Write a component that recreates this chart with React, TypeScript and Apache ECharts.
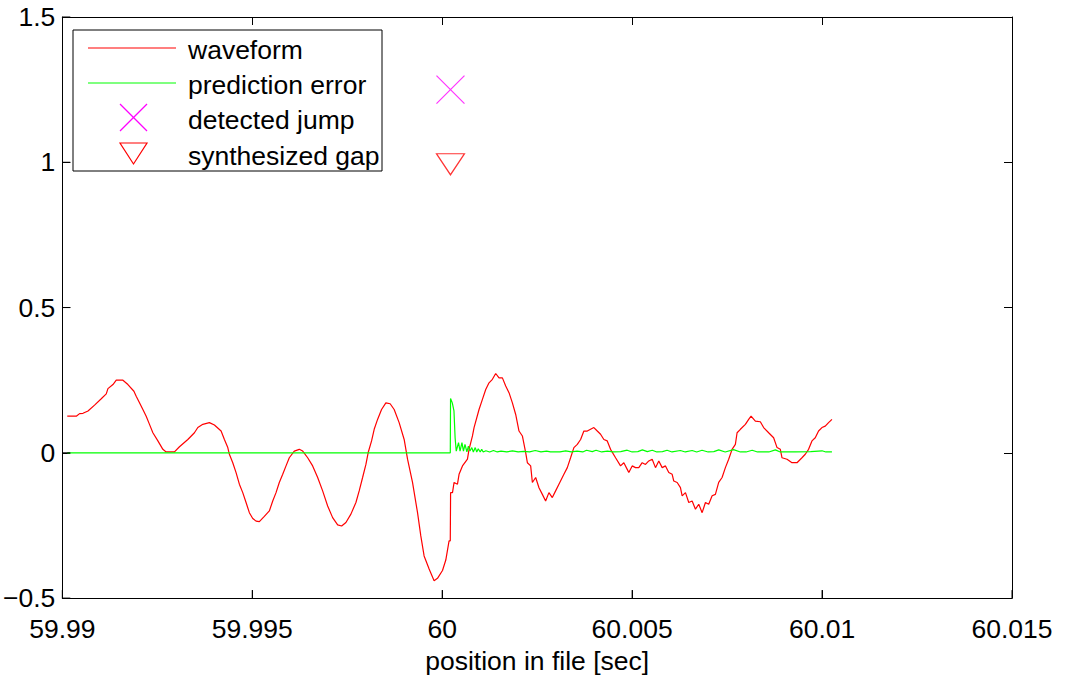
import React, { useEffect, useRef } from "react";
import * as echarts from "echarts";

// time offsets in milliseconds after 59.99 s, and amplitudes
const waveMs = [
  0.13, 0.368, 0.455, 0.544, 0.676, 0.849, 1.025, 1.157, 1.201, 1.333, 1.42, 1.596, 1.727, 1.885, 1.945,
  2.032, 2.121, 2.208, 2.295, 2.384, 2.516, 2.647, 2.734, 2.952, 3.084, 3.304, 3.478, 3.567, 3.699, 3.872,
  4.004, 4.18, 4.267, 4.356, 4.398, 4.487, 4.574, 4.661, 4.75, 4.837, 4.924, 5.013, 5.1, 5.187, 5.318,
  5.45, 5.539, 5.626, 5.712, 5.802, 5.889, 5.975, 6.107, 6.238, 6.328, 6.459, 6.59, 6.722, 6.853, 6.985,
  7.116, 7.248, 7.353, 7.466, 7.597, 7.729, 7.815, 7.905, 7.992, 8.052, 8.141, 8.21, 8.299, 8.404, 8.517,
  8.63, 8.736, 8.867, 8.999, 9.088, 9.219, 9.351, 9.437, 9.524, 9.656, 9.787, 9.876, 10.008, 10.095, 10.181,
  10.213, 10.221, 10.271, 10.313, 10.402, 10.444, 10.534, 10.665, 10.707, 10.797, 10.839, 10.97, 11.059, 11.146, 11.233,
  11.322, 11.409, 11.496, 11.585, 11.672, 11.759, 11.848, 11.935, 12.022, 12.111, 12.198, 12.242, 12.329, 12.374, 12.461,
  12.548, 12.637, 12.723, 12.81, 12.899, 12.986, 13.073, 13.204, 13.294, 13.38, 13.467, 13.557, 13.644, 13.73, 13.82,
  13.906, 13.993, 14.083, 14.169, 14.256, 14.345, 14.432, 14.564, 14.695, 14.782, 14.871, 14.913, 15.002, 15.089, 15.176,
  15.265, 15.352, 15.439, 15.528, 15.615, 15.702, 15.791, 15.878, 15.965, 16.054, 16.096, 16.186, 16.272, 16.317, 16.404,
  16.491, 16.58, 16.667, 16.754, 16.843, 16.93, 17.016, 17.106, 17.192, 17.279, 17.368, 17.455, 17.542, 17.631, 17.718,
  17.763, 17.85, 17.981, 18.068, 18.131, 18.244, 18.375, 18.462, 18.594, 18.725, 18.815, 18.901, 18.946, 19.077, 19.209,
  19.34, 19.471, 19.558, 19.645, 19.734, 19.821, 19.908, 19.997, 20.084, 20.171, 20.26,
];
const waveVal = [
  0.126, 0.126, 0.135, 0.136, 0.144, 0.164, 0.186, 0.203, 0.221, 0.235, 0.25, 0.25, 0.235, 0.212, 0.195,
  0.172, 0.149, 0.126, 0.098, 0.069, 0.041, 0.012, 0.003, 0.003, 0.021, 0.046, 0.069, 0.087, 0.098, 0.104,
  0.096, 0.075, 0.046, 0.018, -0.005, -0.034, -0.068, -0.108, -0.137, -0.171, -0.206, -0.226, -0.235, -0.237, -0.219,
  -0.2, -0.166, -0.137, -0.102, -0.074, -0.045, -0.017, 0.006, 0.012, 0.006, -0.017, -0.045, -0.085, -0.131, -0.183,
  -0.223, -0.248, -0.252, -0.24, -0.211, -0.171, -0.131, -0.085, -0.04, 0.001, 0.041, 0.081, 0.115, 0.149, 0.172,
  0.169, 0.149, 0.104, 0.046, -0.022, -0.102, -0.206, -0.286, -0.355, -0.4, -0.44, -0.432, -0.405, -0.369, -0.303,
  -0.303, -0.137, -0.137, -0.102, -0.108, -0.074, -0.045, -0.022, 0.012, 0.058, 0.087, 0.149, 0.184, 0.218, 0.241,
  0.253, 0.273, 0.258, 0.258, 0.23, 0.207, 0.172, 0.132, 0.075, 0.058, 0.001, -0.034, -0.045, -0.102, -0.085,
  -0.12, -0.143, -0.166, -0.137, -0.154, -0.131, -0.108, -0.074, -0.051, -0.017, 0.018, 0.029, 0.046, 0.075, 0.075,
  0.081, 0.087, 0.075, 0.064, 0.046, 0.041, 0.012, -0.017, -0.045, -0.034, -0.057, -0.068, -0.045, -0.051, -0.051,
  -0.034, -0.04, -0.028, -0.022, -0.051, -0.028, -0.051, -0.045, -0.068, -0.074, -0.097, -0.102, -0.12, -0.148, -0.137,
  -0.171, -0.166, -0.194, -0.177, -0.206, -0.171, -0.177, -0.148, -0.143, -0.102, -0.085, -0.051, -0.022, 0.012, 0.029,
  0.069, 0.081, 0.098, 0.115, 0.126, 0.109, 0.107, 0.087, 0.069, 0.052, 0.018, 0.012, -0.017, -0.022, -0.034,
  -0.034, -0.017, -0.005, 0.012, 0.041, 0.052, 0.075, 0.087, 0.092, 0.104, 0.115,
];

const errMs = [
  0.13, 10.213, 10.22, 10.266, 10.31, 10.34, 10.37, 10.43, 10.47, 10.52, 10.56, 10.6, 10.65, 10.69, 10.73,
  10.78, 10.82, 10.87, 10.91, 10.95, 11.0, 11.04, 11.08, 11.15, 11.25, 11.35, 11.45, 11.55, 11.7, 11.85,
  12.0, 12.15, 12.3, 12.45, 12.6, 12.75, 12.85, 13.1, 13.25, 13.4, 13.55, 13.7, 13.8, 13.95, 14.05,
  14.2, 14.35, 14.5, 14.7, 14.87, 15.0, 15.15, 15.27, 15.4, 15.53, 15.65, 15.8, 15.92, 16.05, 16.27,
  16.4, 16.58, 16.7, 16.84, 17.0, 17.15, 17.28, 17.45, 17.67, 17.85, 18.0, 18.16, 18.3, 18.6, 18.77,
  18.9, 19.3, 19.7, 20.0, 20.1, 20.26,
];
const errVal = [
  0, 0, 0.187, 0.172, 0.144, 0.052, 0.006, 0.035, 0.006, 0.035, 0.006, 0.029, 0.003, 0.023, 0.006,
  0.018, 0.003, 0.018, 0.003, 0.014, 0.003, 0.012, 0.003, 0.007, 0.003, 0.008, 0.003, 0.006, 0.003, 0.007,
  0.003, 0.005, 0.003, 0.008, 0.003, 0.006, 0.003, 0.003, 0.007, 0.003, 0.006, 0.003, 0.009, 0.004, 0.009,
  0.003, 0.006, 0.003, 0.004, 0.009, 0.003, 0.004, 0.01, 0.004, 0.009, 0.003, 0.004, 0.009, 0.003, 0.008,
  0.003, 0.008, 0.003, 0.009, 0.003, 0.004, 0.01, 0.003, 0.011, 0.003, 0.003, 0.009, 0.003, 0.003, 0.01,
  0.003, 0.003, 0.004, 0.007, 0.003, 0.003,
];

const jumpT = [60.000218];
const jumpV = [1.25];
const gapT = [60.000218];
const gapV = [1.0];

const xTickMin = 59.99;
const xTickMax = 60.015;
const xTickStep = 0.005;
const yTickMin = -0.5;
const yTickMax = 1.5;
const yTickStep = 0.5;
const xTickValues = [59.99, 59.995, 60, 60.005, 60.01, 60.015];
const yTickValues = [-0.5, 0, 0.5, 1, 1.5];

const legendNames = ["waveform", "prediction error", "detected jump", "synthesized gap"];

const FONT = "Liberation Sans";
const FS = 26.5;

export default function App() {
  const ref = useRef<HTMLDivElement>(null);
  useEffect(() => {
    document.body.style.margin = "0";
    if (!ref.current) return;
    const chart = echarts.init(ref.current, null, { renderer: "svg" });
    const toT = (ms: number) => 59.99 + ms / 1000;
    const wave = waveMs.map((m, i) => [toT(m), waveVal[i]]);
    const err = errMs.map((m, i) => [toT(m), errVal[i]]);
    const jumps = jumpT.map((t, i) => [t, jumpV[i]]);
    const gaps = gapT.map((t, i) => [t, gapV[i]]);

    const xFmt = (v: number) => String(Number(v.toFixed(3)));
    const yFmt = (v: number) => {
      const s = String(Number(Math.abs(v).toFixed(2)));
      return v < 0 ? "\u2212" + s : s;
    };
    const tick = () => ({ show: true, inside: true, length: 8, lineStyle: { color: "#000", width: 1 } });
    const axLine = () => ({ show: true, onZero: false, lineStyle: { color: "#000", width: 1 } });
    const noSplit = () => ({ show: false });

    const lx1 = 88, lx2 = 176, mx = 133.5;
    const rows = [48, 83, 117.5, 153.5];

    chart.setOption({
      animation: false,
      backgroundColor: "#fff",
      textStyle: { fontFamily: FONT, fontSize: FS, color: "#000" },
      grid: { left: 61, right: 53, top: 17, bottom: 80, show: false },
      xAxis: [
        {
          type: "value", position: "bottom", min: xTickMin, max: xTickMax, interval: xTickStep,
          axisLine: axLine(), axisTick: tick(), splitLine: noSplit(),
          axisLabel: { formatter: xFmt, fontFamily: FONT, fontSize: FS, color: "#000", margin: 17 },
          name: "position in file [sec]", nameLocation: "middle", nameGap: 48,
          nameTextStyle: { fontFamily: FONT, fontSize: FS, color: "#000" },
        },
        {
          type: "value", position: "top", min: xTickMin, max: xTickMax, interval: xTickStep,
          axisLine: axLine(), axisTick: tick(), splitLine: noSplit(), axisLabel: { show: false },
        },
      ],
      yAxis: [
        {
          type: "value", position: "left", min: yTickMin, max: yTickMax, interval: yTickStep,
          axisLine: axLine(), axisTick: tick(), splitLine: noSplit(),
          axisLabel: { formatter: yFmt, fontFamily: FONT, fontSize: FS, color: "#000", margin: 7 },
        },
        {
          type: "value", position: "right", min: yTickMin, max: yTickMax, interval: yTickStep,
          axisLine: axLine(), axisTick: tick(), splitLine: noSplit(), axisLabel: { show: false },
        },
      ],
      series: [
        {
          name: legendNames[0], type: "line", data: wave, showSymbol: false, symbol: "none",
          lineStyle: { color: "#ff0000", width: 1.2 }, itemStyle: { color: "#ff0000" },
        },
        {
          name: legendNames[1], type: "line", data: err, showSymbol: false, symbol: "none",
          lineStyle: { color: "#00ff00", width: 1.2 }, itemStyle: { color: "#00ff00" },
        },
        {
          name: legendNames[2], type: "scatter", data: jumps,
          symbol: "path://M0,0L10,10M10,0L0,10", symbolSize: 28,
          itemStyle: { color: "none", borderColor: "#ff00ff", borderWidth: 1.2 },
        },
        {
          name: legendNames[3], type: "scatter", data: gaps,
          symbol: "path://M0,0L20,0L10,15Z", symbolSize: [28, 21], symbolOffset: [0, 2],
          itemStyle: { color: "none", borderColor: "#ff0000", borderWidth: 1.2 },
        },
        {
          name: "bottomTicks", type: "custom", silent: true, clip: false, z: 5,
          data: xTickValues.map((v) => [v, yTickMin]),
          renderItem: (params: any, api: any) => {
            const p = api.coord([api.value(0), api.value(1)]);
            return {
              type: "line",
              shape: { x1: p[0], y1: p[1], x2: p[0], y2: p[1] - 8 },
              style: { stroke: "#000", lineWidth: 1 },
            };
          },
        },
        {
          name: "leftTicks", type: "custom", silent: true, clip: false, z: 5,
          data: yTickValues.map((v) => [xTickMin, v]),
          renderItem: (params: any, api: any) => {
            const p = api.coord([api.value(0), api.value(1)]);
            return {
              type: "line",
              shape: { x1: p[0], y1: p[1], x2: p[0] + 8, y2: p[1] },
              style: { stroke: "#000", lineWidth: 1 },
            };
          },
        },
      ],
      graphic: [
        {
          type: "rect", z: 100, shape: { x: 73, y: 30, width: 309, height: 141 },
          style: { fill: "#fff", stroke: "#000", lineWidth: 1 },
        },
        { type: "line", z: 101, shape: { x1: lx1, y1: rows[0], x2: lx2, y2: rows[0] }, style: { stroke: "#ff0000", lineWidth: 1.2 } },
        { type: "line", z: 101, shape: { x1: lx1, y1: rows[1], x2: lx2, y2: rows[1] }, style: { stroke: "#00ff00", lineWidth: 1.2 } },
        { type: "line", z: 101, shape: { x1: mx - 13.5, y1: rows[2] - 13.5, x2: mx + 13.5, y2: rows[2] + 13.5 }, style: { stroke: "#ff00ff", lineWidth: 1.2 } },
        { type: "line", z: 101, shape: { x1: mx - 13.5, y1: rows[2] + 13.5, x2: mx + 13.5, y2: rows[2] - 13.5 }, style: { stroke: "#ff00ff", lineWidth: 1.2 } },
        {
          type: "polygon", z: 101,
          shape: { points: [[mx - 13.5, rows[3] - 10.5], [mx + 13.5, rows[3] - 10.5], [mx, rows[3] + 10.5]] },
          style: { fill: "none", stroke: "#ff0000", lineWidth: 1.2 },
        },
        ...legendNames.map((n, i) => ({
          type: "text", z: 101, x: 188, y: rows[i] + 2,
          style: { text: n, fontFamily: FONT, fontSize: FS, fill: "#000", align: "left", verticalAlign: "middle" },
        })),
      ],
    });
    return () => chart.dispose();
  }, []);
  return <div ref={ref} style={{ width: 1065, height: 679 }} />;
}
